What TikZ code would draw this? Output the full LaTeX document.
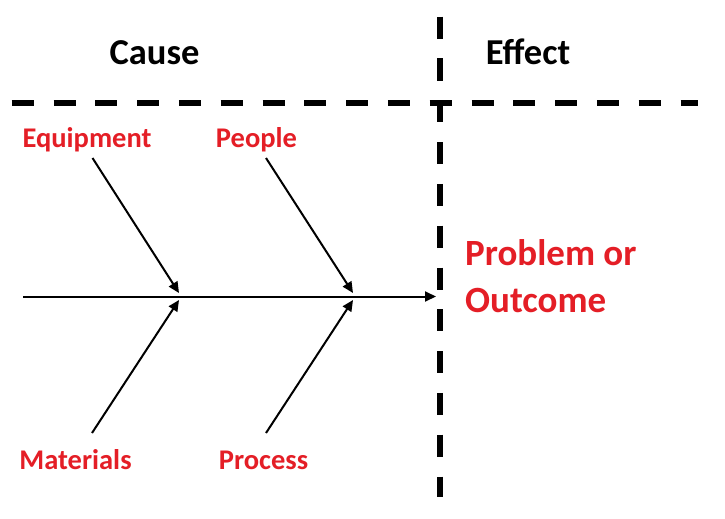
\documentclass[tikz,border=0pt]{standalone}
\usepackage{fontspec}
\setmainfont{Carlito}
\usetikzlibrary{arrows.meta}
\definecolor{labred}{RGB}{228,30,38}
\begin{document}
\begin{tikzpicture}[x=1pt,y=-1pt,
  divider/.style={line width=6pt, dash pattern=on 22pt off 19.8pt},
  bone/.style={line width=2pt, -{Triangle[length=11pt,width=10pt]}},
  head/.style={font=\bfseries\fontsize{36.5}{42}\selectfont, anchor=base, inner sep=0pt},
  cause/.style={font=\bfseries\fontsize{28.5}{32}\selectfont, text=labred, anchor=base, inner sep=0pt},
  effect/.style={font=\bfseries\fontsize{37}{42}\selectfont, text=labred, anchor=base west, inner sep=0pt}]
\useasboundingbox (0,0) rectangle (725,519);
% dividers
\coordinate (hl) at (11.7,103);
\coordinate (hr) at (698,103);
\coordinate (vt) at (440,16.7);
\coordinate (vb) at (440,497);
\draw[divider] (hl) -- (hr);
\draw[divider] (vt) -- (vb);
% headings
\node[head] (cause) at (154.5,65) {Cause};
\node[head] (effect) at (528,65) {Effect};
% spine
\coordinate (s0) at (23,296.5);
\coordinate (s1) at (436,296.5);
\draw[bone] (s0) -- (s1);
% bones
\coordinate (eq0) at (92.5,158);
\coordinate (eq1) at (179,293);
\coordinate (ma0) at (92,433);
\coordinate (ma1) at (179,300);
\coordinate (pe0) at (266,158);
\coordinate (pe1) at (353,293);
\coordinate (pr0) at (266,433);
\coordinate (pr1) at (353,300);
\draw[bone] (eq0) -- (eq1);
\draw[bone] (ma0) -- (ma1);
\draw[bone] (pe0) -- (pe1);
\draw[bone] (pr0) -- (pr1);
% labels
\node[cause] (equip) at (87,147) {Equipment};
\node[cause] (people) at (256.5,147) {People};
\node[cause] (mat) at (75.5,469) {Materials};
\node[cause] (proc) at (263.5,469) {Process};
\node[effect] (prob1) at (465,265) {Problem or};
\node[effect] (prob2) at (465,312) {Outcome};
\end{tikzpicture}
\end{document}
